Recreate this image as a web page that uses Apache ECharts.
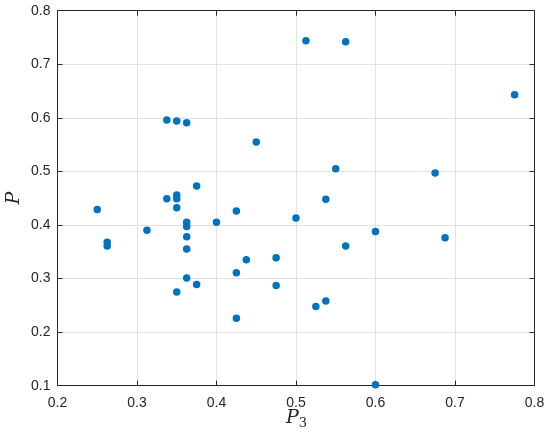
<!DOCTYPE html>
<html>
<head>
<meta charset="utf-8">
<script src="https://cdn.jsdelivr.net/npm/echarts@6/dist/echarts.min.js"></script>
<style>
html,body{margin:0;padding:0;background:#fff;}
#chart{width:550px;height:439px;}
</style>
</head>
<body>
<div id="chart"></div>
<script>
var p3Values = [0.3375,0.35,0.3625,0.45,0.375,0.3375,0.35,0.35,0.35,0.25,0.425,0.3625,0.3625,0.3625,0.3625,0.3625,0.4,0.2625,0.2625,0.3125,0.375,0.35,0.425,0.4375,0.425,0.475,0.475,0.5125,0.5625,0.775,0.55,0.675,0.5375,0.5,0.6,0.6875,0.5625,0.5375,0.525,0.6];
var pValues  = [0.596,0.594,0.591,0.555,0.473,0.449,0.456,0.449,0.432,0.429,0.426,0.405,0.397,0.378,0.355,0.301,0.405,0.368,0.361,0.39,0.289,0.275,0.311,0.335,0.226,0.339,0.287,0.744,0.742,0.643,0.505,0.497,0.448,0.413,0.388,0.376,0.361,0.258,0.248,0.102];
var xTicks = [0.2,0.3,0.4,0.5,0.6,0.7,0.8];
var yTicks = [0.1,0.2,0.3,0.4,0.5,0.6,0.7,0.8];

var points = p3Values.map(function(x,i){return [x,pValues[i]];});
var axisColor = '#262626';
var chart = echarts.init(document.getElementById('chart'), null, {renderer:'canvas'});
function fmt(v){return v.toFixed(1);}
var common = {
  axisLine:{show:true,onZero:false,lineStyle:{color:axisColor,width:1}},
  axisTick:{show:true,inside:true,length:5,lineStyle:{color:axisColor,width:1}},
  splitLine:{show:false}
};
chart.setOption({
  animation:false,
  grid:{left:57.5,right:15.5,top:10.7,bottom:53.3,containLabel:false},
  xAxis:[
    Object.assign({type:'value',position:'bottom',min:xTicks[0],max:xTicks[xTicks.length-1],interval:0.1,
      axisLabel:{color:axisColor,fontFamily:'Liberation Sans, Arial, sans-serif',fontSize:14,margin:10,formatter:fmt},
      splitLine:{show:true,lineStyle:{color:'#e3e3e3',width:1}}
    }, {axisLine:common.axisLine,axisTick:common.axisTick}),
    Object.assign({type:'value',position:'top',min:xTicks[0],max:xTicks[xTicks.length-1],interval:0.1,
      axisLabel:{show:false},splitLine:{show:false}}, {axisLine:common.axisLine,axisTick:common.axisTick})
  ],
  yAxis:[
    Object.assign({type:'value',position:'left',min:yTicks[0],max:yTicks[yTicks.length-1],interval:0.1,
      axisLabel:{color:axisColor,fontFamily:'Liberation Sans, Arial, sans-serif',fontSize:14,margin:7,formatter:fmt},
      splitLine:{show:true,lineStyle:{color:'#e3e3e3',width:1}}
    }, {axisLine:common.axisLine,axisTick:common.axisTick}),
    Object.assign({type:'value',position:'right',min:yTicks[0],max:yTicks[yTicks.length-1],interval:0.1,
      axisLabel:{show:false},splitLine:{show:false}}, {axisLine:common.axisLine,axisTick:common.axisTick})
  ],
  graphic:[
    {type:'text',left:286,top:409,style:{text:'{i|P}{s|3}',rich:{
      i:{fontFamily:'DejaVu Serif, Liberation Serif, serif',fontStyle:'italic',fontSize:19,fill:axisColor},
      s:{fontFamily:'DejaVu Serif, Liberation Serif, serif',fontSize:13,fill:axisColor,verticalAlign:'bottom',padding:[10,0,0,0]}
    }}},
    {type:'text',x:14,y:198,rotation:Math.PI/2,style:{text:'P',fontFamily:'DejaVu Serif, Liberation Serif, serif',fontStyle:'italic',fontSize:19,fill:axisColor,align:'center',verticalAlign:'middle'}}
  ],
  series:[{
    type:'scatter',xAxisIndex:0,yAxisIndex:0,
    data:points,symbol:'circle',symbolSize:7.5,
    itemStyle:{color:'#0072BD',opacity:1}
  }]
});
</script>
</body>
</html>
